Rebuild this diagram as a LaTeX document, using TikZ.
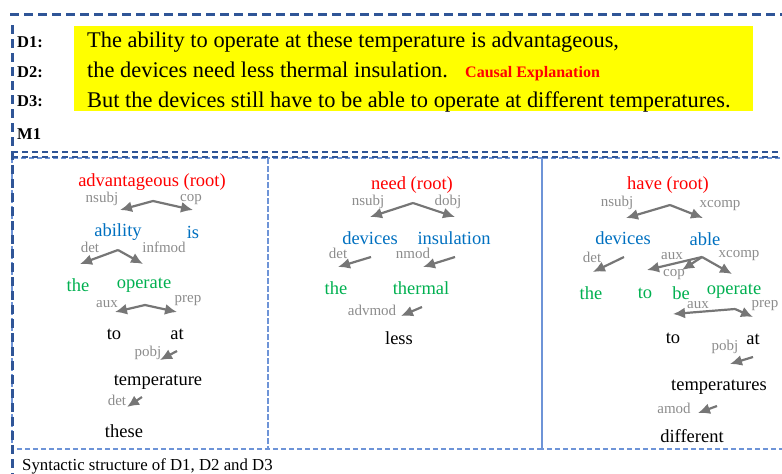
\documentclass[tikz,border=0pt]{standalone}
\usepackage{fontspec}
\setmainfont{Liberation Serif}
\usepackage{tikz}
\usetikzlibrary{arrows.meta}
\usetikzlibrary{positioning}

\definecolor{rootred}{RGB}{255,0,0}
\definecolor{wordblue}{RGB}{0,112,192}
\definecolor{wordgreen}{RGB}{0,176,80}
\definecolor{relgray}{RGB}{140,140,140}
\definecolor{arcgray}{RGB}{118,118,118}
\definecolor{darkframe}{RGB}{47,85,151}
\definecolor{lightframe}{RGB}{110,148,215}
\definecolor{hiyellow}{RGB}{255,255,0}

\begin{document}
\begin{tikzpicture}[x=1pt, y=-1pt,
    word/.style={font=\fontsize{18.5}{20}\selectfont, inner sep=0pt},
    wroot/.style={word, text=rootred},
    whead/.style={word, text=wordblue},
    wdep/.style={word, text=wordgreen},
    wleaf/.style={word, text=black},
    rellabel/.style={font=\fontsize{15}{16}\selectfont, text=relgray, inner sep=0pt},
    deparc/.style={-{Latex[length=12pt,width=11pt]}, draw=arcgray, fill=arcgray, line width=2.2pt},
    doctag/.style={font=\bfseries\fontsize{16.5}{18}\selectfont, inner sep=0pt, anchor=base west},
    sentline/.style={font=\fontsize{22.4}{24}\selectfont, inner sep=0pt, anchor=base west},
    outerframe/.style={draw=darkframe, line width=3pt, dash pattern=on 9pt off 5pt},
    innerframe/.style={draw=lightframe, line width=1.3pt, dash pattern=on 5pt off 3pt}]
  \useasboundingbox (0,0) rectangle (782,474);

  % highlighted sentences
  \fill[hiyellow] (74,26) rectangle (753,111);
  \node[doctag] (d1) at (17,47)  {D1:};
  \node[doctag] (d2) at (17,77)  {D2:};
  \node[doctag] (d3) at (17,106) {D3:};
  \node[doctag] (m1) at (17,139) {M1};
  \node[sentline] (s1) at (87,47)  {The ability to operate at these temperature is advantageous,};
  \node[sentline] (s2) at (87,77)  {the devices need less thermal insulation.};
  \node[sentline] (s3) at (87,107) {But the devices still have to be able to operate at different temperatures.};
  \node[doctag, text=rootred, font=\bfseries\fontsize{16}{18}\selectfont] (causal) at (465,77) {Causal Explanation};

  % frames
  \draw[innerframe] (12,158) rectangle (268,449);
  \draw[innerframe] (268,158) rectangle (542,449);
  \draw[innerframe] (542,158) rectangle (790,449);
  \draw[outerframe] (10,14) -- (782,14);
  \draw[outerframe] (12,25) -- (12,474);
  \draw[outerframe, line width=2.5pt, dash pattern=on 6pt off 4pt] (12,152) -- (782,152);
  \draw[outerframe, line width=2.5pt, dash pattern=on 6pt off 4pt] (12,157) -- (782,157);

  % D1 tree
  \node[wroot] (adv) at (152,182) {advantageous (root)};
  \node[rellabel] (nsubj1) at (102,199) {nsubj};
  \node[rellabel] (cop1) at (191,200) {cop};
  \node[whead] (ability) at (118,232) {ability};
  \node[whead] (is1) at (193,232) {is};
  \node[rellabel] (det1) at (90,247) {det};
  \node[rellabel] (infmod1) at (164,247) {infmod};
  \node[wdep] (the1) at (78,285) {the};
  \node[wdep] (operate1) at (144,285) {operate};
  \node[rellabel] (aux1) at (107,304) {aux};
  \node[rellabel] (prep1) at (188,301) {prep};
  \node[wleaf] (to1) at (114,334) {to};
  \node[wleaf] (at1) at (177,334) {at};
  \node[rellabel] (pobj1) at (148,353) {pobj};
  \node[wleaf] (temp1) at (158,382) {temperature};
  \node[rellabel] (det1b) at (117,400) {det};
  \node[wleaf] (these1) at (124,431) {these};

  \coordinate (adv-a) at (153,201);
  \coordinate (adv-l) at (120,210);
  \coordinate (adv-r) at (193,210);
  \coordinate (ab-a) at (118,250);
  \coordinate (ab-l) at (80,264);
  \coordinate (ab-r) at (143,264);
  \coordinate (op-a) at (145,305);
  \coordinate (op-l) at (115,312);
  \coordinate (op-r) at (177,312);
  \coordinate (at-s) at (177,351);
  \coordinate (at-e) at (160,360);
  \coordinate (tp-s) at (142,397);
  \coordinate (tp-e) at (127,407);
  \draw[deparc] (adv-a) -- (adv-l);
  \draw[deparc] (adv-a) -- (adv-r);
  \draw[deparc] (ab-a) -- (ab-l);
  \draw[deparc] (ab-a) -- (ab-r);
  \draw[deparc] (op-a) -- (op-l);
  \draw[deparc] (op-a) -- (op-r);
  \draw[deparc] (at-s) -- (at-e);
  \draw[deparc] (tp-s) -- (tp-e);

  % D2 tree
  \node[wroot] (need) at (412,185) {need (root)};
  \node[rellabel] (nsubj2) at (368,202) {nsubj};
  \node[rellabel] (dobj2) at (448,202) {dobj};
  \node[whead] (devices2) at (370,238) {devices};
  \node[whead] (insul2) at (454,238) {insulation};
  \node[rellabel] (det2) at (338,253) {det};
  \node[rellabel] (nmod2) at (413,253) {nmod};
  \node[wdep] (the2) at (336,288) {the};
  \node[wdep] (thermal2) at (421,288) {thermal};
  \node[rellabel] (advmod2) at (372,310) {advmod};
  \node[wleaf] (less2) at (399,338) {less};

  \coordinate (need-a) at (413,203);
  \coordinate (need-l) at (370,217);
  \coordinate (need-r) at (455,217);
  \coordinate (dv-s) at (371,257);
  \coordinate (dv-e) at (338,267);
  \coordinate (in-s) at (455,257);
  \coordinate (in-e) at (423,267);
  \coordinate (th-s) at (422,307);
  \coordinate (th-e) at (401,316);
  \draw[deparc] (need-a) -- (need-l);
  \draw[deparc] (need-a) -- (need-r);
  \draw[deparc] (dv-s) -- (dv-e);
  \draw[deparc] (in-s) -- (in-e);
  \draw[deparc] (th-s) -- (th-e);

  % D3 tree
  \node[wroot] (have) at (668,185) {have (root)};
  \node[rellabel] (nsubj3) at (617,203) {nsubj};
  \node[rellabel] (xcomp3) at (720,206) {xcomp};
  \node[whead] (devices3) at (623,238) {devices};
  \node[whead] (able3) at (705,239) {able};
  \node[rellabel] (det3) at (592,257) {det};
  \node[rellabel] (aux3) at (672,256) {aux};
  \node[rellabel] (xcomp3b) at (739,256) {xcomp};
  \node[rellabel] (cop3) at (674,275) {cop};
  \node[wdep] (the3) at (591,293) {the};
  \node[wdep] (to3) at (645,293) {to};
  \node[wdep] (be3) at (681,293) {be};
  \node[wdep] (operate3) at (734,291) {operate};
  \node[rellabel] (aux3b) at (698,305) {aux};
  \node[rellabel] (prep3) at (765,306) {prep};
  \node[wleaf] (to3b) at (673,338) {to};
  \node[wleaf] (at3) at (753,339) {at};
  \node[rellabel] (pobj3) at (725,347) {pobj};
  \node[wleaf] (temps3) at (719,387) {temperatures};
  \node[rellabel] (amod3) at (674,408) {amod};
  \node[wleaf] (diff3) at (692,436) {different};

  \coordinate (hv-a) at (670,205);
  \coordinate (hv-l) at (626,218);
  \coordinate (hv-r) at (703,218);
  \coordinate (dv3-s) at (624,257);
  \coordinate (dv3-e) at (593,272);
  \coordinate (ab3-a) at (702,257);
  \coordinate (ab3-l) at (647,270);
  \coordinate (ab3-m) at (682,270);
  \coordinate (ab3-r) at (732,274);
  \coordinate (op3-a) at (735,309);
  \coordinate (op3-l) at (673,314);
  \coordinate (op3-r) at (753,317);
  \coordinate (at3-s) at (753,357);
  \coordinate (at3-e) at (730,364);
  \coordinate (tp3-s) at (717,406);
  \coordinate (tp3-e) at (698,413);
  \draw[deparc] (hv-a) -- (hv-l);
  \draw[deparc] (hv-a) -- (hv-r);
  \draw[deparc] (dv3-s) -- (dv3-e);
  \draw[deparc] (ab3-a) -- (ab3-l);
  \draw[deparc] (ab3-a) -- (ab3-m);
  \draw[deparc] (ab3-a) -- (ab3-r);
  \draw[deparc] (op3-a) -- (op3-l);
  \draw[deparc] (op3-a) -- (op3-r);
  \draw[deparc] (at3-s) -- (at3-e);
  \draw[deparc] (tp3-s) -- (tp3-e);

  % caption
  \node[inner sep=0pt, anchor=base west, font=\fontsize{16.8}{18}\selectfont] (caption) at (22,470) {Syntactic structure of D1, D2 and D3};
\end{tikzpicture}
\end{document}
